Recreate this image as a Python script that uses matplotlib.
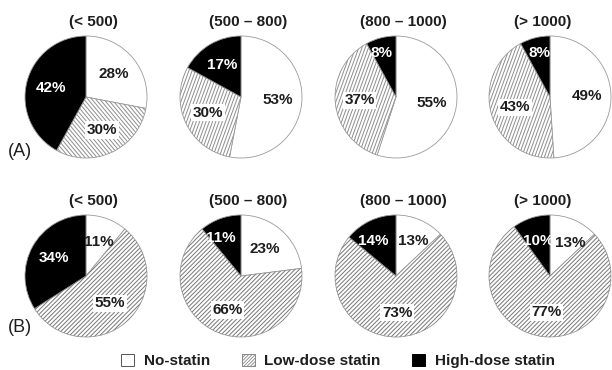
import matplotlib
matplotlib.use("Agg")
import matplotlib.pyplot as plt
from matplotlib.patches import Patch
from matplotlib.collections import LineCollection
import numpy as np

plt.rcParams.update({
    "font.family": ["Liberation Sans", "DejaVu Sans"],
    "hatch.linewidth": 0.6,
})

# ── Datos ─────────────────────────────────────────────────────────────────────
GRUPOS = ["(< 500)", "(500 – 800)", "(800 – 1000)", "(> 1000)"]
CATEGORIAS = ["No-statin", "Low-dose statin", "High-dose statin"]

no_statin_a = [28, 53, 55, 49]
low_dose_a  = [30, 30, 37, 43]
high_dose_a = [42, 17, 8, 8]

no_statin_b = [11, 23, 13, 13]
low_dose_b  = [55, 66, 73, 77]
high_dose_b = [34, 11, 14, 10]

# ── Figura ────────────────────────────────────────────────────────────────────
W, H = 612, 370
fig = plt.figure(figsize=(W / 100, H / 100), dpi=100)

CX = [86, 241, 396, 550]
TITLE_DX = [7, 7, 7, -7]          # desplazamiento de títulos (px)
R = 61
EDGE = "#9a9a9a"
TXT = "#1e1e1e"

# ángulo y color del rayado por fila
ANG_A = [-50, 70, 70, 70]
ANG_B = [45, 45, 45, 45]
HATCH_A = "#8e8e8e"
HATCH_B = "#767676"

# posiciones manuales de algunas etiquetas (en radios)
LABEL_POS = {
    ("A", 2, 2): (-0.23, 0.72),
    ("A", 3, 2): (-0.18, 0.72),
    ("B", 1, 2): (-0.33, 0.62),
    ("B", 2, 2): (-0.38, 0.57),
    ("B", 2, 0): (0.28, 0.57),
    ("B", 3, 0): (0.33, 0.54),
}


def rayado(ax, wedge, ang, color, sep=0.05):
    a = np.deg2rad(ang)
    u = np.array([np.cos(a), np.sin(a)])
    n = np.array([-np.sin(a), np.cos(a)])
    segs = [[t * n - 1.6 * u, t * n + 1.6 * u] for t in np.arange(-1.6, 1.6, sep)]
    lc = LineCollection(segs, colors=color, linewidths=0.7, zorder=wedge.get_zorder() + 0.1)
    ax.add_collection(lc)
    lc.set_clip_path(wedge)


def pie_panel(fila, i, cy, vals, ang, hcolor):
    ax = fig.add_axes([(CX[i] - R) / W, (H - cy - R) / H, 2 * R / W, 2 * R / H])
    wedges, _, autotexts = ax.pie(
        vals, startangle=90, counterclock=False, autopct="%.0f%%",
        pctdistance=0.6, colors=["white", "white", "black"],
        wedgeprops=dict(edgecolor=EDGE, linewidth=0.6),
        textprops=dict(fontsize=11, fontweight="bold", color=TXT, zorder=5))
    for w in wedges:
        w.set_clip_on(False)
    rayado(ax, wedges[1], ang, hcolor)
    # etiqueta sobre rayado: fondo blanco; sobre negro: texto blanco
    autotexts[1].set_bbox(dict(facecolor="white", edgecolor="none", pad=1.2))
    autotexts[2].set_color("white")
    for k, t in enumerate(autotexts):
        if (fila, i, k) in LABEL_POS:
            t.set_position(LABEL_POS[(fila, i, k)])
    ax.set_xlim(-1, 1)
    ax.set_ylim(-1, 1)
    ax.set_title(GRUPOS[i], fontsize=11, fontweight="bold", color=TXT, pad=7,
                 x=0.5 + TITLE_DX[i] / (2 * R))
    return ax


for i in range(len(GRUPOS)):
    pie_panel("A", i, 97, [no_statin_a[i], low_dose_a[i], high_dose_a[i]], ANG_A[i], HATCH_A)
    pie_panel("B", i, 276, [no_statin_b[i], low_dose_b[i], high_dose_b[i]], ANG_B[i], HATCH_B)

fig.text(20 / W, 1 - 152 / H, "(A)", fontsize=13, ha="center", va="center", color=TXT)
fig.text(20 / W, 1 - 328 / H, "(B)", fontsize=13, ha="center", va="center", color=TXT)

handles = [
    Patch(facecolor="white", edgecolor="#555555", linewidth=0.7),
    Patch(facecolor="white", edgecolor="#888888", linewidth=0.7, hatch="//////////"),
    Patch(facecolor="black", edgecolor="black", linewidth=0.7),
]
fig.legend(handles, CATEGORIAS, loc="center", bbox_to_anchor=(338 / W, 9 / H),
           ncol=3, frameon=False, handlelength=0.85, handleheight=0.85,
           handletextpad=0.6, columnspacing=2.1,
           prop=dict(size=11, weight="bold"), labelcolor=TXT)

plt.savefig("out.png", dpi=100)
plt.close()
